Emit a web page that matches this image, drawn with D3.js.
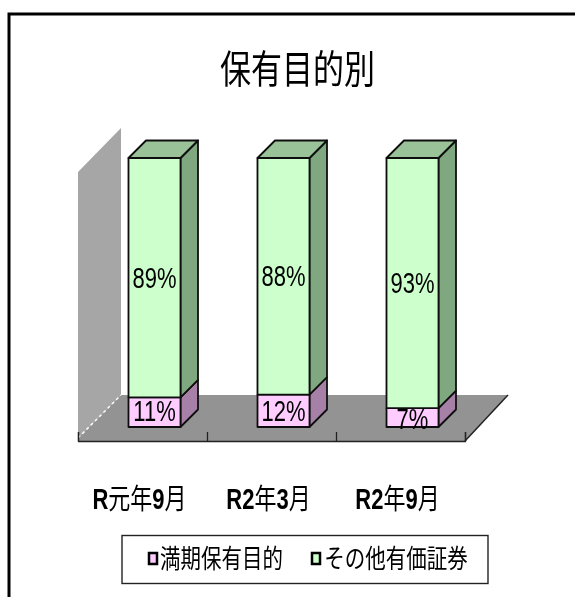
<!DOCTYPE html>
<html>
<head>
<meta charset="utf-8">
<script src="https://cdn.jsdelivr.net/npm/d3@7"></script>
<style>
html, body { margin: 0; padding: 0; background: #fff; }
text { font-family: "Liberation Sans", "Noto Sans CJK JP", sans-serif; fill: #000; }
</style>
</head>
<body>
<div id="chart"></div>
<script>
const categories = ["R元年9月", "R2年3月", "R2年9月"];
const heldToMaturity = [11, 12, 7];
const otherSecurities = [89, 88, 93];
const seriesNames = ["満期保有目的", "その他有価証券"];
const titleText = "保有目的別";

const frontColors = ["#ffccff", "#ccffcc"];
const sideColors = ["#a680a6", "#80a880"];
const topColor = "#99c299";

const sWidth = 575, sHeight = 597;
const depth = 17.5;

const svg = d3.select("#chart").append("svg")
    .attr("width", sWidth)
    .attr("height", sHeight)
    .style("display", "block");

const defs = svg.append("defs");
defs.append("filter").attr("id", "soft")
    .append("feGaussianBlur").attr("stdDeviation", 0.4);

const g = svg.append("g").attr("filter", "url(#soft)");

// outer frame, only top and left show in the picture
g.append("path")
    .attr("d", "M9,597V14H575")
    .attr("fill", "none")
    .attr("stroke", "#000")
    .attr("stroke-width", 3);

const x = d3.scaleBand().domain(categories).range([78, 465]);
const xEdges = d3.scalePoint().domain(d3.range(categories.length + 1)).range([78, 465]);
const y = d3.scaleLinear().domain([0, 100]).range([427, 158]);

// back wall and floor
const wallX = 78, wallBack = 121, floorFront = 441, floorBack = 395;
g.append("polygon")
    .attr("points", [[wallX, 172], [wallBack, 128], [wallBack, floorBack], [wallX, 438]].join(" "))
    .attr("fill", "#a6a6a6");
g.append("polygon")
    .attr("points", [[wallX, floorFront], [wallX, 438], [wallBack, floorBack], [508, floorBack], [465, floorFront]].join(" "))
    .attr("fill", "#939393");
g.append("line")
    .attr("x1", wallX).attr("y1", 438).attr("x2", wallBack).attr("y2", floorBack)
    .attr("stroke", "#fff").attr("stroke-width", 1.5).attr("stroke-dasharray", "3,3");
g.append("line")
    .attr("x1", 465).attr("y1", floorFront).attr("x2", 508).attr("y2", floorBack)
    .attr("stroke", "#222").attr("stroke-width", 1.5);

// axis, ticks sit on the category boundaries
const axis = g.append("g")
    .attr("transform", "translate(0," + floorFront + ")")
    .call(d3.axisBottom(xEdges).tickSize(-9).tickFormat(""));
axis.selectAll("path, line").attr("stroke", "#222").attr("stroke-width", 1.3);

const barOffset = 50.5, barWidth = 52;

function stretchedText(parent, str, px, py, size, sy) {
    return parent.append("text")
        .attr("transform", "translate(" + px + "," + py + ") scale(1," + sy + ")")
        .attr("text-anchor", "middle")
        .attr("font-size", size)
        .text(str);
}

categories.forEach((c, i) => {
    const x0 = x(c) + barOffset, x1 = x0 + barWidth;
    const yBase = y(0), yMid = y(heldToMaturity[i]), yTop = y(heldToMaturity[i] + otherSecurities[i]);
    const bar = g.append("g").attr("stroke", "#111").attr("stroke-width", 1.8).attr("stroke-linejoin", "round");

    [[yBase, yMid, 0], [yMid, yTop, 1]].forEach(([lo, hi, s]) => {
        bar.append("polygon")
            .attr("points", [[x1, lo], [x1 + depth, lo - depth], [x1 + depth, hi - depth], [x1, hi]].join(" "))
            .attr("fill", sideColors[s]);
        bar.append("rect")
            .attr("x", x0).attr("y", hi)
            .attr("width", barWidth).attr("height", lo - hi)
            .attr("fill", frontColors[s]);
    });
    bar.append("polygon")
        .attr("points", [[x0, yTop], [x0 + depth, yTop - depth], [x1 + depth, yTop - depth], [x1, yTop]].join(" "))
        .attr("fill", topColor);

    const cx = x0 + barWidth / 2;
    stretchedText(g, heldToMaturity[i] + "%", cx, i === 2 ? 429 : 421, 22, 1.3);
    stretchedText(g, otherSecurities[i] + "%", cx, y(heldToMaturity[i] + otherSecurities[i] / 2) + 10, 22, 1.3);

    // latin letters and digits read bold in the reference, kanji do not
    const label = stretchedText(g, "", cx - 15, 509, 22, 1.3);
    c.split("").forEach(ch => {
        label.append("tspan")
            .attr("font-weight", /[A-Z0-9]/.test(ch) ? "bold" : "normal")
            .text(ch);
    });
});

stretchedText(g, titleText, 297.5, 83, 31, 1.25);

// legend
g.append("rect")
    .attr("x", 122).attr("y", 535.5)
    .attr("width", 366).attr("height", 48)
    .attr("fill", "#fff").attr("stroke", "#222").attr("stroke-width", 1.4);

const legendSwatchX = [149, 312];
const legendTextX = [221.5, 396];
seriesNames.forEach((name, i) => {
    g.append("rect")
        .attr("x", legendSwatchX[i]).attr("y", 553)
        .attr("width", 8).attr("height", 11)
        .attr("fill", frontColors[i])
        .attr("stroke", "#000").attr("stroke-width", 2.5);
    stretchedText(g, name, legendTextX[i], 568, 20.5, 1.25);
});
</script>
</body>
</html>
